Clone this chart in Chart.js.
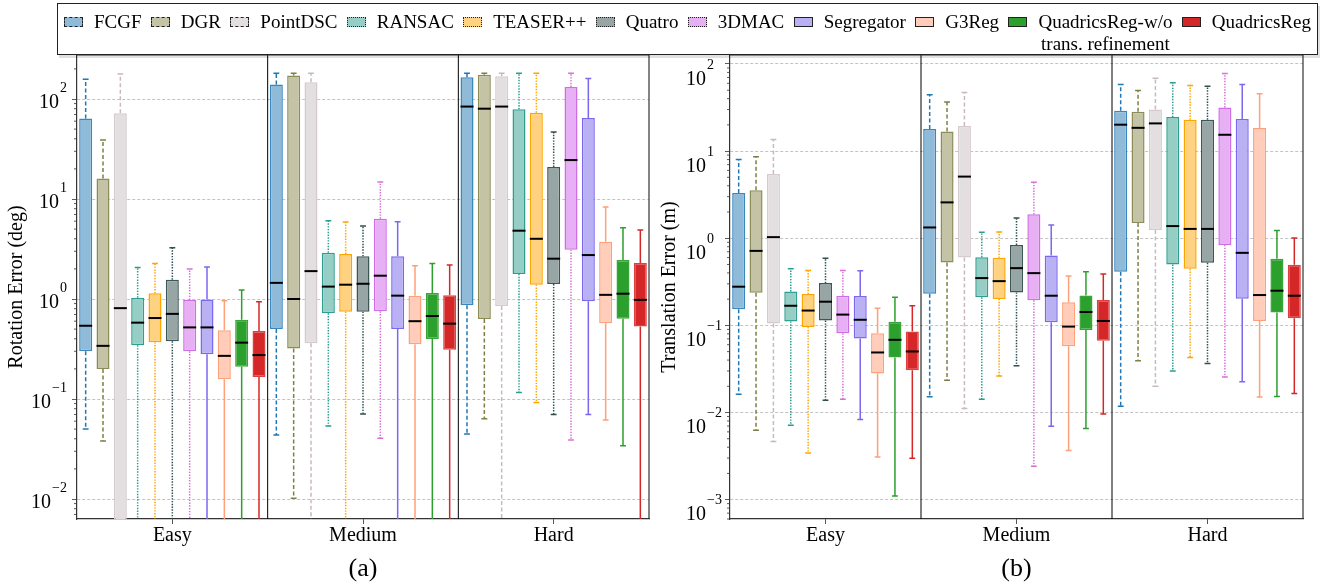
<!DOCTYPE html>
<html>
<head>
<meta charset="utf-8">
<script src="https://cdn.jsdelivr.net/npm/chart.js@4.4.1/dist/chart.umd.min.js"></script>
<style>
  html, body { margin: 0; padding: 0; background: #fff; }
  body { width: 1335px; height: 585px; position: relative; overflow: hidden;
         font-family: "Liberation Serif", "Times New Roman", serif; }
  #rot { position: absolute; left: 0; top: 0; }
  #trans { position: absolute; left: 650px; top: 0; }
  #legend { position: absolute; left: 57px; top: 3px; width: 1261px; height: 52px;
            box-sizing: border-box; border: 1px solid #222; background: #fff;
            box-shadow: 2px 3px 0 rgba(0,0,0,0.12); z-index: 2;
            display: flex; justify-content: space-between; align-items: flex-start;
            padding: 7px 6px 0 6px; }
  .item { display: flex; align-items: flex-start; font-size: 19px; line-height: 22px; color: #000; }
  .sw { width: 19px; height: 10px; margin: 6px 11px 0 0; box-sizing: border-box; border: 1.5px solid #222; }
  .txt { text-align: center; white-space: nowrap; }
</style>
</head>
<body>
<div id="legend"></div>
<canvas id="rot" width="650" height="585"></canvas>
<canvas id="trans" width="685" height="585"></canvas>
<script>
(function () {
  "use strict";

  // --- categories / methods
  var categories = ["Easy", "Medium", "Hard"];
  var methods = ["FCGF", "DGR", "PointDSC", "RANSAC", "TEASER++", "Quatro", "3DMAC",
    "Segregator", "G3Reg", "QuadricsReg-w/o\ntrans. refinement", "QuadricsReg"];

  // --- rotation error (deg), rows = methods, cols = Easy / Medium / Hard
  var rotMax = [[158, 181, 181], [39, 181, 181], [178, 181, 181], [2.07, 6.07, 181],
    [2.27, 5.89, 181], [3.26, 5.37, 46.8], [2.0, 14.8, 181], [2.09, 5.93, 160],
    [0.96, 2.15, 8.3], [1.23, 2.26, 5.16], [0.94, 2.19, 4.9]];
  var rotQ3 = [[64, 140, 165], [16, 172, 175], [72, 147, 169], [1.03, 2.9, 79],
    [1.14, 2.82, 73], [1.56, 2.67, 20.9], [0.98, 6.36, 132], [0.99, 2.67, 64.6],
    [0.486, 1.08, 3.74], [0.62, 1.15, 2.45], [0.48, 1.09, 2.29]];
  var rotMed = [[0.54, 1.45, 84], [0.34, 1.0, 80], [0.81, 1.9, 84], [0.58, 1.33, 4.82],
    [0.645, 1.39, 4.0], [0.71, 1.42, 2.53], [0.52, 1.71, 24.5], [0.52, 1.08, 2.75],
    [0.27, 0.6, 1.1], [0.366, 0.676, 1.13], [0.275, 0.567, 0.98]];
  var rotQ1 = [[0.30, 0.50, 0.865], [0.20, 0.32, 0.63], [0.003, 0.36, 0.85], [0.344, 0.72, 1.78],
    [0.37, 0.747, 1.39], [0.377, 0.747, 1.41], [0.30, 0.753, 3.11], [0.28, 0.5, 0.948],
    [0.158, 0.352, 0.571], [0.21, 0.398, 0.636], [0.166, 0.311, 0.53]];
  var rotMin = [[0.050, 0.0436, 0.0447], [0.038, 0.0102, 0.0636], [0.001, 0.001, 0.001],
    [0.001, 0.0537, 0.116], [0.001, 0.001, 0.092], [0.001, 0.0708, 0.07],
    [0.001, 0.0404, 0.039], [0.001, 0.001, 0.07], [0.001, 0.001, 0.0617],
    [0.001, 0.001, 0.0341], [0.001, 0.001, 0.001]];
  var rotPowers = [-2, -1, 0, 1, 2];

  // --- translation error (m)
  var trMax = [[8.0, 44.2, 58], [8.6, 36.7, 49.5], [13.6, 47, 68.6], [0.446, 1.17, 60.7],
    [0.427, 1.18, 56.5], [0.59, 1.71, 55.6], [0.427, 4.4, 77.5], [0.424, 1.42, 58],
    [0.157, 0.368, 45.4], [0.21, 0.412, 1.23], [0.168, 0.388, 1.01]];
  var trQ3 = [[3.3, 17.9, 29], [3.56, 16.8, 28.3], [5.48, 19.4, 30.1], [0.245, 0.606, 24.6],
    [0.229, 0.596, 22.9], [0.306, 0.839, 22.9], [0.219, 1.88, 31.7], [0.217, 0.634, 23.3],
    [0.081, 0.184, 18.4], [0.11, 0.221, 0.58], [0.085, 0.195, 0.496]];
  var trMed = [[0.278, 1.33, 20.1], [0.716, 2.58, 18.5], [1.03, 5.1, 20.8], [0.168, 0.349, 1.38],
    [0.148, 0.322, 1.28], [0.187, 0.454, 1.28], [0.133, 0.398, 15.4], [0.116, 0.219, 0.68],
    [0.0489, 0.0969, 0.223], [0.0683, 0.1425, 0.25], [0.0502, 0.1124, 0.219]];
  var trQ1 = [[0.153, 0.231, 0.412], [0.237, 0.527, 1.5], [0.105, 0.601, 1.245], [0.111, 0.21, 0.5],
    [0.096, 0.201, 0.446], [0.1135, 0.239, 0.522], [0.081, 0.194, 0.839], [0.0706, 0.1087, 0.202],
    [0.0281, 0.0578, 0.1124], [0.0429, 0.0887, 0.141], [0.0305, 0.0665, 0.1208]];
  var trMin = [[0.0162, 0.0152, 0.0118], [0.00628, 0.0234, 0.0393], [0.00466, 0.0111, 0.02],
    [0.00716, 0.0142, 0.0299], [0.00343, 0.0262, 0.0429], [0.0138, 0.0345, 0.0366],
    [0.0142, 0.00242, 0.0255], [0.0083, 0.00698, 0.0226], [0.00308, 0.00367, 0.0151],
    [0.0011, 0.00656, 0.0153], [0.00298, 0.00964, 0.0165]];
  var trPowers = [-3, -2, -1, 0, 1, 2];

  // --- styles per method
  var boxFill = ["#8fbbd9", "#c4c3a6", "#e3dfe0", "#96cec5", "#fed280", "#97a6a4",
    "#e8b0f4", "#b9b1f3", "#ffcdb9", "#2ca02c", "#d62728"];
  var boxEdge = ["#3a86bf", "#8c8c58", "#d6cacd", "#2e9e90", "#ffa500", "#3b5757",
    "#cf6de6", "#7b68ee", "#ffa07a", "#3aa33a", "#dc4040"];
  var whiskerColor = ["#1f77b4", "#7f7f45", "#c9b9bd", "#2a9d8f", "#ffa500", "#2f4f4f",
    "#da70d6", "#7b68ee", "#ffa07a", "#2ca02c", "#d62728"];
  var lineStyle = ["dash", "dash", "dash", "dot", "dot", "dot", "dot",
    "solid", "solid", "solid", "solid"];

  var FONT = "'Liberation Serif', 'Times New Roman', serif";

  // --- legend (html)
  var legendEl = document.getElementById("legend");
  methods.forEach(function (m, i) {
    var item = document.createElement("div");
    item.className = "item";
    var sw = document.createElement("span");
    sw.className = "sw";
    sw.style.background = boxFill[i];
    sw.style.borderStyle = lineStyle[i] === "dash" ? "dashed" : (lineStyle[i] === "dot" ? "dotted" : "solid");
    var txt = document.createElement("span");
    txt.className = "txt";
    txt.innerHTML = m.split("\n").join("<br>");
    item.appendChild(sw);
    item.appendChild(txt);
    legendEl.appendChild(item);
  });

  function dashFor(style) {
    if (style === "dash") return [4, 2.5];
    if (style === "dot") return [1.4, 1.4];
    return [];
  }

  // --- box plot drawing: whiskers, medians, frame, log ticks
  function makeBoxPlugin(st, lab) {
    return {
      id: "boxWhiskers",
      beforeDatasetsDraw: function (chart) {
        var ctx = chart.ctx, ya = chart.scales.y, area = chart.chartArea;
        ctx.save();
        ctx.beginPath();
        ctx.rect(area.left, area.top, area.right - area.left, area.bottom - area.top);
        ctx.clip();
        chart.data.datasets.forEach(function (ds, i) {
          var meta = chart.getDatasetMeta(i);
          meta.data.forEach(function (el, j) {
            var x = el.x, cap = el.width * 0.45;
            var yMax = ya.getPixelForValue(st.max[i][j]);
            var yQ3 = ya.getPixelForValue(st.q3[i][j]);
            var yQ1 = ya.getPixelForValue(st.q1[i][j]);
            var yMin = ya.getPixelForValue(st.min[i][j]);
            ctx.strokeStyle = whiskerColor[i];
            ctx.lineWidth = 1.5;
            ctx.setLineDash(dashFor(lineStyle[i]));
            ctx.beginPath();
            ctx.moveTo(x, yQ3); ctx.lineTo(x, yMax);
            ctx.moveTo(x, yQ1); ctx.lineTo(x, yMin);
            ctx.stroke();
            ctx.setLineDash([]);
            ctx.beginPath();
            ctx.moveTo(x - cap / 2, yMax); ctx.lineTo(x + cap / 2, yMax);
            ctx.moveTo(x - cap / 2, yMin); ctx.lineTo(x + cap / 2, yMin);
            ctx.stroke();
          });
        });
        ctx.restore();
      },
      afterDatasetsDraw: function (chart) {
        var ctx = chart.ctx, ya = chart.scales.y;
        ctx.save();
        ctx.strokeStyle = "#000";
        ctx.lineWidth = 2;
        chart.data.datasets.forEach(function (ds, i) {
          chart.getDatasetMeta(i).data.forEach(function (el, j) {
            var y = ya.getPixelForValue(st.med[i][j]);
            ctx.beginPath();
            ctx.moveTo(el.x - el.width / 2, y);
            ctx.lineTo(el.x + el.width / 2, y);
            ctx.stroke();
          });
        });
        ctx.restore();
      },
      afterDraw: function (chart) {
        var ctx = chart.ctx, ya = chart.scales.y, xa = chart.scales.x, area = chart.chartArea;
        ctx.save();
        // group separators
        ctx.strokeStyle = "#000";
        ctx.lineWidth = 1;
        for (var c = 0; c < categories.length - 1; c++) {
          var sx = (xa.getPixelForValue(c) + xa.getPixelForValue(c + 1)) / 2;
          ctx.beginPath();
          ctx.moveTo(sx, area.top); ctx.lineTo(sx, area.bottom);
          ctx.stroke();
        }
        // frame top/right
        ctx.strokeStyle = "#333";
        ctx.lineWidth = 1.2;
        ctx.beginPath();
        ctx.moveTo(area.left, area.top); ctx.lineTo(area.right, area.top); ctx.lineTo(area.right, area.bottom);
        ctx.stroke();
        // minor log ticks
        ctx.lineWidth = 0.8;
        var lo = Math.floor(Math.log10(ya.min)), hi = Math.ceil(Math.log10(ya.max));
        for (var p = lo; p <= hi; p++) {
          for (var k = 2; k <= 9; k++) {
            var v = k * Math.pow(10, p);
            if (v < ya.min || v > ya.max) continue;
            var y = ya.getPixelForValue(v);
            ctx.beginPath();
            ctx.moveTo(area.left - 3, y); ctx.lineTo(area.left, y);
            ctx.stroke();
          }
        }
        // major labels 10^n
        ctx.fillStyle = "#000";
        ctx.textBaseline = "alphabetic";
        ctx.textAlign = "left";
        lab.powers.forEach(function (pw) {
          var y = ya.getPixelForValue(Math.pow(10, pw));
          var sup = pw < 0 ? "\u2212" + (-pw) : String(pw);
          ctx.font = "14px " + FONT;
          var supW = ctx.measureText(sup).width;
          ctx.font = "20px " + FONT;
          var baseW = ctx.measureText("10").width;
          var baseX, supX;
          if (lab.align === "right") {
            supX = lab.x - supW;
            baseX = supX - 1 - baseW;
          } else {
            baseX = lab.x;
            supX = baseX + baseW + 1;
          }
          ctx.font = "20px " + FONT;
          ctx.fillText("10", baseX, y + lab.dy + 6.8);
          ctx.font = "14px " + FONT;
          ctx.fillText(sup, supX, y + lab.dy - 14 + 4.7);
        });
        ctx.restore();
      }
    };
  }

  function buildChart(canvasId, st, yMin, yMax, powers, yTitle, xTitle, axisW, padRight, titlePad, lab) {
    var ctx = document.getElementById(canvasId);
    return new Chart(ctx, {
      type: "bar",
      data: {
        labels: categories,
        datasets: methods.map(function (m, i) {
          return {
            label: m,
            data: categories.map(function (c, j) { return [st.q1[i][j], st.q3[i][j]]; }),
            backgroundColor: boxFill[i],
            borderColor: boxEdge[i],
            borderWidth: 1.5,
            borderSkipped: false,
            categoryPercentage: 1.0,
            barPercentage: 0.75,
            clip: 0
          };
        })
      },
      options: {
        responsive: false,
        animation: false,
        events: [],
        devicePixelRatio: 1,
        layout: { padding: { top: 55, left: 0, right: padRight, bottom: 0 } },
        plugins: { legend: { display: false }, tooltip: { enabled: false } },
        scales: {
          x: {
            type: "category",
            offset: true,
            grid: { drawOnChartArea: false, drawTicks: true, tickLength: 5, offset: false, color: "#555" },
            border: { display: true, color: "#333", width: 1.2 },
            ticks: { color: "#000", font: { family: FONT, size: 20 }, padding: 0, maxRotation: 0 },
            title: { display: true, text: xTitle, color: "#000", font: { family: FONT, size: 26 }, padding: 0 },
            afterFit: function (s) { s.height = 66; }
          },
          y: {
            type: "logarithmic",
            min: yMin,
            max: yMax,
            afterBuildTicks: function (s) {
              s.ticks = powers.map(function (p) { return { value: Math.pow(10, p), major: true }; });
            },
            grid: { color: "#b4b4b4", lineWidth: 0.8, drawTicks: true, tickLength: 5, tickColor: "#333" },
            border: { display: true, color: "#333", width: 1.2, dash: [3, 2] },
            ticks: { display: false },
            title: { display: true, text: yTitle, color: "#000", font: { family: FONT, size: 20 },
                     padding: { top: titlePad, bottom: 0 } },
            afterFit: function (s) { s.width = axisW; }
          }
        }
      },
      plugins: [makeBoxPlugin(st, lab)]
    });
  }

  buildChart("rot", { min: rotMin, q1: rotQ1, med: rotMed, q3: rotQ3, max: rotMax },
    Math.pow(10, -2.2), Math.pow(10, 2.44), rotPowers,
    "Rotation Error (deg)", "(a)", 77, 1, 4.5, { powers: rotPowers, align: "right", x: 67, dy: 2 });

  buildChart("trans", { min: trMin, q1: trQ1, med: trMed, q3: trQ3, max: trMax },
    Math.pow(10, -3.2), Math.pow(10, 2.103), trPowers,
    "Translation Error (m)", "(b)", 80, 32, 7.5, { powers: trPowers, align: "left", x: 36, dy: 14 });
})();
</script>
</body>
</html>
